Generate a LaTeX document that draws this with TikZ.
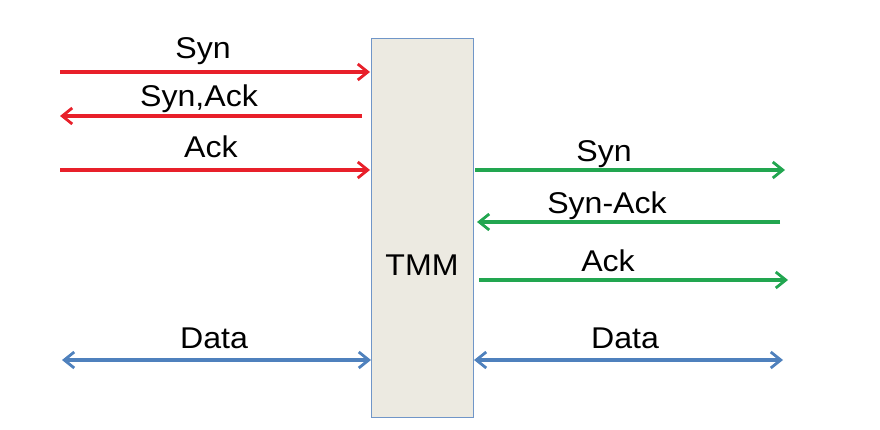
\documentclass[tikz,border=0pt]{standalone}
\usepackage{fontspec}
\usepackage{graphicx}
\setmainfont{Liberation Sans}
\usetikzlibrary{arrows.meta}
\definecolor{cred}{HTML}{E8202A}
\definecolor{cgreen}{HTML}{22A650}
\definecolor{cblue}{HTML}{4F81BD}
\definecolor{boxfill}{HTML}{ECEAE1}
\definecolor{boxline}{HTML}{7096C8}
\newcommand{\wide}[1]{\scalebox{1.07}[1]{#1}}
\tikzset{
  tip/.style={-{Straight Barb[length=10pt,width=16pt,line width=2.8pt]}},
  dtip/.style={{Straight Barb[length=10pt,width=16pt,line width=2.8pt]}-{Straight Barb[length=10pt,width=16pt,line width=2.8pt]}},
  redarrow/.style={draw=cred,line width=3.2pt,tip},
  greenarrow/.style={draw=cgreen,line width=3.2pt,tip},
  bluearrow/.style={draw=cblue,line width=3.2pt,dtip},
  lbl/.style={anchor=base,inner sep=0pt,font=\fontsize{30}{32}\selectfont}
}
\begin{document}
\begin{tikzpicture}[x=1pt,y=-1pt]
\useasboundingbox (0,0) rectangle (880,430);
\node[draw=boxline,fill=boxfill,line width=1.2pt,minimum width=102pt,minimum height=379pt,inner sep=0pt,anchor=north west] (tmm) at (371,38) {};
\node[lbl] (tmmlbl) at (422,276) {\wide{TMM}};
% left red
\coordinate (l1a) at (60,72); \coordinate (l1b) at (370,72);
\coordinate (l2a) at (362,116); \coordinate (l2b) at (60,116);
\coordinate (l3a) at (60,170); \coordinate (l3b) at (370,170);
\draw[redarrow] (l1a) -- (l1b);
\draw[redarrow] (l2a) -- (l2b);
\draw[redarrow] (l3a) -- (l3b);
\node[lbl] (t1) at (203,59) {\wide{Syn}};
\node[lbl] (t2) at (199,107) {\wide{Syn,Ack}};
\node[lbl] (t3) at (211,158) {\wide{Ack}};
% right green
\coordinate (r1a) at (475,170); \coordinate (r1b) at (785,170);
\coordinate (r2a) at (780,222); \coordinate (r2b) at (477,222);
\coordinate (r3a) at (479,280); \coordinate (r3b) at (788,280);
\draw[greenarrow] (r1a) -- (r1b);
\draw[greenarrow] (r2a) -- (r2b);
\draw[greenarrow] (r3a) -- (r3b);
\node[lbl] (u1) at (604,162) {\wide{Syn}};
\node[lbl] (u2) at (607,214) {\wide{Syn-Ack}};
\node[lbl] (u3) at (608,271) {\wide{Ack}};
% data
\coordinate (d1a) at (62,360); \coordinate (d1b) at (371,360);
\coordinate (d2a) at (474,360); \coordinate (d2b) at (783,360);
\draw[bluearrow] (d1a) -- (d1b);
\draw[bluearrow] (d2a) -- (d2b);
\node[lbl] (v1) at (214,348) {\wide{Data}};
\node[lbl] (v2) at (625,348) {\wide{Data}};
\end{tikzpicture}
\end{document}
